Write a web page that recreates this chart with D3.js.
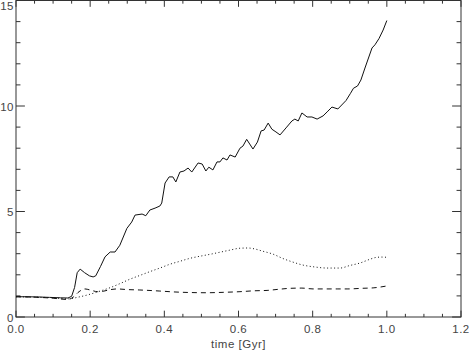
<!DOCTYPE html>
<html>
<head>
<meta charset="utf-8">
<script src="https://cdn.jsdelivr.net/npm/d3@7"></script>
<style>
  body { margin: 0; background: #fff; }
  svg text { font-family: "Liberation Sans", Arial, sans-serif; font-size: 11.5px; fill: #444; letter-spacing: 0.5px; }
</style>
</head>
<body>
<script>
// solid curve (time in Gyr, value)
const solidT = [0,0.03,0.06,0.09,0.12,0.14,0.15,0.158,0.165,0.173,0.185,0.198,0.208,0.215,0.228,0.24,0.254,0.267,0.28,0.299,0.312,0.321,0.34,0.35,0.361,0.375,0.388,0.393,0.402,0.413,0.423,0.431,0.442,0.453,0.464,0.474,0.491,0.502,0.512,0.52,0.531,0.542,0.55,0.558,0.569,0.577,0.591,0.604,0.612,0.622,0.639,0.651,0.661,0.669,0.68,0.69,0.701,0.712,0.73,0.744,0.752,0.761,0.771,0.785,0.798,0.812,0.828,0.839,0.852,0.868,0.89,0.902,0.91,0.921,0.93,0.941,0.96,0.968,0.979,0.99,1.0]
const solidV = [0.96,0.96,0.95,0.93,0.91,0.9,0.98,1.4,2.1,2.27,2.1,1.95,1.9,1.95,2.4,2.85,3.08,3.08,3.4,4.2,4.5,4.83,4.88,4.8,5.07,5.16,5.26,5.4,6.35,6.64,6.64,6.4,6.87,6.92,7.06,6.87,7.3,7.25,6.92,7.1,6.97,7.35,7.35,7.54,7.44,7.68,7.58,8.0,8.1,8.42,7.96,8.29,8.82,8.86,9.19,8.9,8.77,8.63,9.0,9.29,9.38,9.29,9.67,9.48,9.48,9.38,9.53,9.72,9.95,9.86,10.26,10.6,10.84,10.95,11.23,11.8,12.75,12.9,13.2,13.6,14.05]

// dotted curve
const dotT = [0,0.05,0.1,0.14,0.17,0.2,0.227,0.254,0.28,0.307,0.334,0.361,0.388,0.415,0.442,0.469,0.496,0.523,0.55,0.577,0.604,0.625,0.645,0.665,0.693,0.72,0.747,0.774,0.806,0.839,0.874,0.9,0.928,0.955,0.97,0.985,1.0]
const dotV = [0.96,0.94,0.91,0.86,0.95,1.08,1.23,1.39,1.58,1.79,1.97,2.15,2.32,2.5,2.64,2.78,2.88,2.97,3.07,3.17,3.26,3.27,3.22,3.12,2.98,2.77,2.6,2.46,2.37,2.32,2.32,2.44,2.56,2.74,2.82,2.84,2.83]

// dashed curve
const dashT = [0,0.05,0.1,0.14,0.155,0.17,0.186,0.2,0.22,0.235,0.255,0.272,0.3,0.334,0.388,0.424,0.47,0.514,0.56,0.604,0.64,0.677,0.712,0.74,0.771,0.801,0.833,0.866,0.895,0.933,0.963,1.0]
const dashV = [0.96,0.94,0.89,0.83,0.95,1.2,1.33,1.28,1.2,1.22,1.3,1.33,1.3,1.28,1.23,1.19,1.16,1.15,1.17,1.2,1.24,1.26,1.32,1.36,1.37,1.33,1.33,1.33,1.33,1.36,1.38,1.47]

const xMajor = [0,0.2,0.4,0.6,0.8,1.0,1.2]
const yMajor = [0,5,10,15]
const xTitle = "time [Gyr]"

const W = 469, H = 350
const margin = {top: 0.5, right: 8, bottom: 33, left: 16}

const svg = d3.select("body").append("svg").attr("width", W).attr("height", H)

const x = d3.scaleLinear().domain([0, 1.2]).range([margin.left, W - margin.right])
const y = d3.scaleLinear().domain([0, 15]).range([H - margin.bottom, margin.top])

const pw = x.range()[1] - x.range()[0], ph = y.range()[0] - y.range()[1]
const xLen = ph * 0.02, yLen = pw * 0.02   // IDL style tick lengths
const xMinor = d3.range(0, 1.2001, 0.05).filter(v => Math.abs(v / 0.2 - Math.round(v / 0.2)) > 1e-6)
const yMinor = d3.range(0, 15.001, 1).filter(v => v % 5 !== 0)

const ax = svg.append("g").attr("stroke", "#333").attr("stroke-width", 1).attr("fill", "none")
ax.append("rect").attr("x", x(0)).attr("y", y(15)).attr("width", pw).attr("height", ph)

// bottom + top ticks
ax.selectAll(".xt").data(xMajor.map(v => [v, xLen]).concat(xMinor.map(v => [v, xLen / 2])))
  .join(enter => {
    const g = enter.append("g")
    g.append("line").attr("x1", d => x(d[0])).attr("x2", d => x(d[0]))
      .attr("y1", y(0)).attr("y2", d => y(0) - d[1])
    g.append("line").attr("x1", d => x(d[0])).attr("x2", d => x(d[0]))
      .attr("y1", y(15)).attr("y2", d => y(15) + d[1])
    return g
  })

// left + right ticks
ax.selectAll(".yt").data(yMajor.map(v => [v, yLen]).concat(yMinor.map(v => [v, yLen / 2])))
  .join(enter => {
    const g = enter.append("g")
    g.append("line").attr("y1", d => y(d[0])).attr("y2", d => y(d[0]))
      .attr("x1", x(0)).attr("x2", d => x(0) + d[1])
    g.append("line").attr("y1", d => y(d[0])).attr("y2", d => y(d[0]))
      .attr("x1", x(1.2)).attr("x2", d => x(1.2) - d[1])
    return g
  })

svg.selectAll(".xl").data(xMajor).join("text")
  .attr("x", d => x(d)).attr("y", y(0) + 16)
  .attr("text-anchor", "middle").text(d => d.toFixed(1))

svg.selectAll(".yl").data(yMajor).join("text")
  .attr("x", x(0) - 2).attr("y", d => Math.max(y(d) + 4.5, 10))
  .attr("text-anchor", "end").text(d => d)

svg.append("text").attr("x", (x(0) + x(1.2)) / 2).attr("y", H - 2.5)
  .attr("text-anchor", "middle").text(xTitle)

const series = [
  {t: solidT, v: solidV, dash: null, curve: d3.curveLinear},
  {t: dotT, v: dotV, dash: "1,2.5", curve: d3.curveMonotoneX},
  {t: dashT, v: dashV, dash: "5,4", curve: d3.curveMonotoneX}
]

series.forEach(s => {
  const line = d3.line().x(d => x(d[0])).y(d => y(d[1])).curve(s.curve)
  svg.append("path")
    .datum(s.t.map((t, i) => [t, s.v[i]]))
    .attr("d", line)
    .attr("fill", "none").attr("stroke", "#111").attr("stroke-width", 1)
    .attr("stroke-dasharray", s.dash)
})
</script>
</body>
</html>
